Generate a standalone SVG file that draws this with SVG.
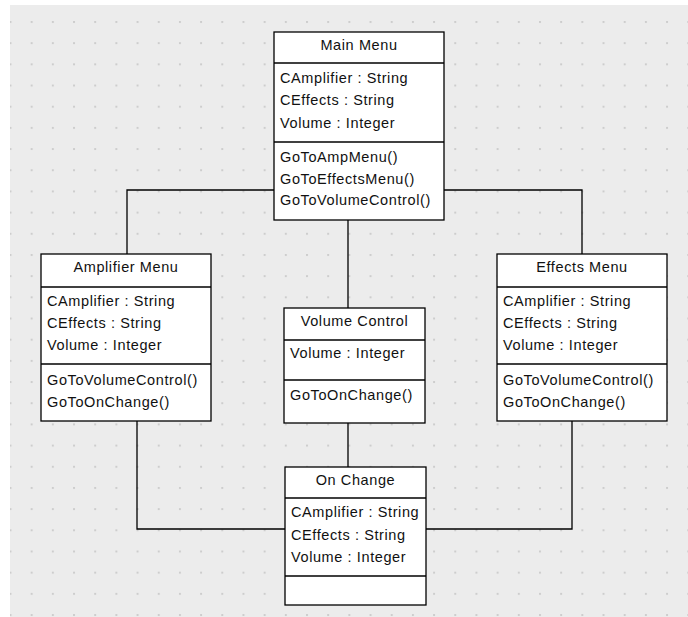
<svg xmlns="http://www.w3.org/2000/svg" width="688" height="617" viewBox="0 0 688 617">
  <style>
    .box { fill: #ffffff; stroke: #000000; stroke-width: 1.3; }
    .sep { stroke: #000000; stroke-width: 1.3; }
    .wire { fill: none; stroke: #000000; stroke-width: 1.3; }
    text { font-family: "Liberation Sans", Arial, sans-serif; font-size: 14.5px; fill: #111111; letter-spacing: 0.6px; }
    .title { text-anchor: middle; }
  </style>
  <defs>
    <pattern id="grid" x="9.5" y="21" width="21.18" height="21.18" patternUnits="userSpaceOnUse">
      <rect x="0" y="0" width="2" height="2" fill="#cdcdcd"/>
    </pattern>
  </defs>

  <!-- canvas -->
  <rect x="0" y="0" width="688" height="617" fill="#ffffff"/>
  <rect x="10" y="5" width="678" height="612" fill="#ececec"/>
  <rect x="10" y="5" width="678" height="612" fill="url(#grid)"/>

  <!-- connectors -->
  <g id="connectors">
    <path class="wire" d="M348,220 V308"/>
    <path class="wire" d="M274,190 H127 V254"/>
    <path class="wire" d="M444,190 H582 V254"/>
    <path class="wire" d="M137,421 V529 H285"/>
    <path class="wire" d="M572,421 V529 H426"/>
    <path class="wire" d="M348,423 V467"/>
  </g>

  <!-- Main Menu -->
  <g id="main-menu">
    <rect class="box" x="274" y="32" width="170" height="188"/>
    <line class="sep" x1="274" y1="63" x2="444" y2="63"/>
    <line class="sep" x1="274" y1="142" x2="444" y2="142"/>
    <text class="title" x="359" y="50">Main Menu</text>
    <text x="280" y="83">CAmplifier : String</text>
    <text x="280" y="105">CEffects : String</text>
    <text x="280" y="128">Volume : Integer</text>
    <text x="280" y="162">GoToAmpMenu()</text>
    <text x="280" y="184">GoToEffectsMenu()</text>
    <text x="280" y="205">GoToVolumeControl()</text>
  </g>

  <!-- Amplifier Menu -->
  <g id="amplifier-menu">
    <rect class="box" x="41" y="254" width="170" height="167"/>
    <line class="sep" x1="41" y1="287" x2="211" y2="287"/>
    <line class="sep" x1="41" y1="364" x2="211" y2="364"/>
    <text class="title" x="126" y="272">Amplifier Menu</text>
    <text x="47" y="306">CAmplifier : String</text>
    <text x="47" y="328">CEffects : String</text>
    <text x="47" y="350">Volume : Integer</text>
    <text x="47" y="385">GoToVolumeControl()</text>
    <text x="47" y="407">GoToOnChange()</text>
  </g>

  <!-- Volume Control -->
  <g id="volume-control">
    <rect class="box" x="284" y="308" width="141" height="115"/>
    <line class="sep" x1="284" y1="340" x2="425" y2="340"/>
    <line class="sep" x1="284" y1="380" x2="425" y2="380"/>
    <text class="title" x="354.5" y="326">Volume Control</text>
    <text x="290" y="358">Volume : Integer</text>
    <text x="290" y="400">GoToOnChange()</text>
  </g>

  <!-- Effects Menu -->
  <g id="effects-menu">
    <rect class="box" x="497" y="254" width="170" height="167"/>
    <line class="sep" x1="497" y1="287" x2="667" y2="287"/>
    <line class="sep" x1="497" y1="364" x2="667" y2="364"/>
    <text class="title" x="582" y="272">Effects Menu</text>
    <text x="503" y="306">CAmplifier : String</text>
    <text x="503" y="328">CEffects : String</text>
    <text x="503" y="350">Volume : Integer</text>
    <text x="503" y="385">GoToVolumeControl()</text>
    <text x="503" y="407">GoToOnChange()</text>
  </g>

  <!-- On Change -->
  <g id="on-change">
    <rect class="box" x="285" y="467" width="141" height="138"/>
    <line class="sep" x1="285" y1="498" x2="426" y2="498"/>
    <line class="sep" x1="285" y1="576" x2="426" y2="576"/>
    <text class="title" x="355.5" y="485">On Change</text>
    <text x="291" y="517">CAmplifier : String</text>
    <text x="291" y="540">CEffects : String</text>
    <text x="291" y="562">Volume : Integer</text>
  </g>
</svg>
